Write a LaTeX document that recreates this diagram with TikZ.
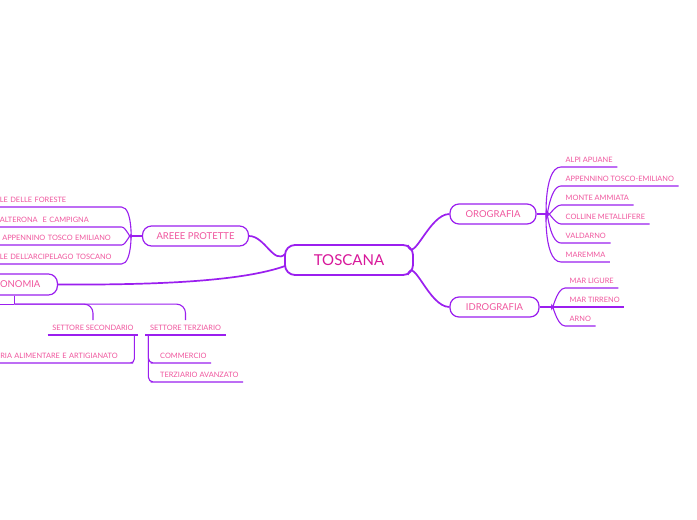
\documentclass[tikz,border=0pt]{standalone}
\usepackage{fontspec}
\setmainfont{Lato}
\usepackage{tikz}
\usetikzlibrary{positioning,calc}

\definecolor{mmline}{HTML}{9B1FEF}
\definecolor{mmtext}{HTML}{F0569E}
\definecolor{mmroot}{HTML}{D8179A}

\begin{document}
\begin{tikzpicture}[x=1pt,y=-1pt,
    root/.style={draw=mmline, line width=1.8pt, rounded corners=10pt, fill=white, text=mmroot,
      font=\fontsize{15}{15}\selectfont, minimum width=128pt, minimum height=30pt, inner sep=0pt},
    topic/.style={draw=mmline, line width=1.2pt, rounded corners=9pt, fill=white, text=mmtext,
      font=\fontsize{9.5}{9.5}\selectfont, inner xsep=14pt, minimum height=20pt},
    leaf/.style={text=mmtext, font=\fontsize{7.4}{7.4}\selectfont, inner xsep=4.5pt, inner ysep=4.5pt,
      text height=5.5pt, text depth=0pt},
    leftleaf/.style={leaf, text width=117pt, align=left, anchor=south east},
    rightleaf/.style={leaf, anchor=south west},
    mainlink/.style={draw=mmline, line width=1.7pt},
    leaflink/.style={draw=mmline, line width=1.1pt}]
    \useasboundingbox (0,0) rectangle (697,520);
    \clip (0,0) rectangle (697,520);
    \fill[white] (0,0) rectangle (697,520);

    % Central topic
    \node[root] (toscana) at (349,260) {TOSCANA};

    % Main topics
    \node[topic, minimum width=105pt] (areee) at (195.5,236) {AREEE PROTETTE};
    \node[topic, anchor=east, inner xsep=17pt, minimum height=21pt] (economia) at (58,284.5) {ECONOMIA};
    \node[topic, minimum width=86pt] (orografia) at (493,214) {OROGRAFIA};
    \node[topic, minimum width=89pt] (idrografia) at (494.5,307) {IDROGRAFIA};

    % Links from the centre
    \draw[mainlink] ($(toscana.west)+(1,-6)$) to[out=225, in=0] (areee.east);
    \draw[mainlink] ($(toscana.west)+(1,6)$) .. controls (240,282) and (150,285) .. (economia.east);
    \draw[mainlink] ($(toscana.north east)+(-6,1)$) to[out=-75, in=180] (orografia.west);
    \draw[mainlink] ($(toscana.south east)+(-6,-1)$) to[out=75, in=180] (idrografia.west);

    % Aree protette
    \draw[mainlink] (areee.west) -- ++(-11,0) coordinate (aj);
    \node[leftleaf] (foreste) at (121.5,207) {LE DELLE FORESTE};
    \node[leftleaf] (falterona) at (121.5,227) {ALTERONA\ \ E CAMPIGNA};
    \node[leftleaf] (appennino) at (121.5,245) {\ APPENNINO TOSCO EMILIANO};
    \node[leftleaf] (arcipelago) at (121.5,264) {\mbox{LE DELL'ARCIPELAGO TOSCANO}};
    \draw[leaflink] (aj) to[out=-90, in=0] (foreste.south east) -- (foreste.south west);
    \draw[leaflink] (aj) to[out=-90, in=0] (falterona.south east) -- (falterona.south west);
    \draw[leaflink] (aj) to[out=90, in=0] (appennino.south east) -- (appennino.south west);
    \draw[leaflink] (aj) to[out=90, in=0] (arcipelago.south east) -- (arcipelago.south west);

    % Orografia
    \draw[mainlink] (orografia.east) -- ++(10,0) coordinate (oj);
    \node[rightleaf] (apuane) at (561,167) {ALPI APUANE};
    \node[rightleaf] (toscoemil) at (561,186) {APPENNINO TOSCO-EMILIANO};
    \node[rightleaf] (amiata) at (561,205) {MONTE AMMIATA};
    \node[rightleaf] (colline) at (561,224) {COLLINE METALLIFERE};
    \node[rightleaf] (valdarno) at (561,243) {VALDARNO};
    \node[rightleaf] (maremma) at (561,262) {MAREMMA};
    \draw[leaflink] (oj) to[out=-90, in=180] (apuane.south west) -- (apuane.south east);
    \draw[leaflink] (oj) to[out=-90, in=180] (toscoemil.south west) -- (toscoemil.south east);
    \draw[leaflink] (oj) to[out=-90, in=180] (amiata.south west) -- (amiata.south east);
    \draw[leaflink] (oj) to[out=90, in=180] (colline.south west) -- (colline.south east);
    \draw[leaflink] (oj) to[out=90, in=180] (valdarno.south west) -- (valdarno.south east);
    \draw[leaflink] (oj) to[out=90, in=180] (maremma.south west) -- (maremma.south east);

    % Idrografia
    \draw[mainlink] (idrografia.east) -- ++(12,0) coordinate (ij);
    \node[rightleaf] (ligure) at (565,288) {MAR LIGURE};
    \node[rightleaf] (tirreno) at (565,307) {MAR TIRRENO};
    \node[rightleaf] (arno) at (565,326) {ARNO};
    \draw[leaflink] (ij) to[out=-90, in=180] (ligure.south west) -- (ligure.south east);
    \draw[leaflink] (ij) -- (tirreno.south west) -- (tirreno.south east);
    \draw[leaflink] (ij) to[out=90, in=180] (arno.south west) -- (arno.south east);

    % Economia
    \draw[mainlink] (economia.south) -- ++(0,8.5) coordinate (ej);
    \draw[leaflink] (ej) -- ++(-30,0);
    \node[leaf, anchor=south] (secondario) at (93,335) {SETTORE SECONDARIO};
    \node[leaf, anchor=south] (terziario) at (185.5,335) {SETTORE TERZIARIO};
    \draw[leaflink, rounded corners=9pt] (ej) -| (secondario.north);
    \draw[leaflink, rounded corners=9pt] (ej) -| (terziario.north);
    \draw[leaflink] (secondario.south west) -- (secondario.south east);
    \draw[leaflink] (terziario.south west) -- (terziario.south east);

    % Settore secondario
    \node[leftleaf, text width=124pt] (alimentare) at (129,363) {RIA ALIMENTARE E ARTIGIANATO};
    \draw[leaflink, rounded corners=4pt] ($(secondario.south east)+(-4,0)$) |- (alimentare.south east) -- (alimentare.south west);

    % Settore terziario
    \node[rightleaf] (commercio) at (155.5,363) {COMMERCIO};
    \node[rightleaf] (avanzato) at (155.5,382) {TERZIARIO AVANZATO};
    \draw[leaflink, rounded corners=5pt] ($(terziario.south west)+(3,0)$) |- (commercio.south west) -- (commercio.south east);
    \draw[leaflink, rounded corners=5pt] ($(terziario.south west)+(3,0)$) |- (avanzato.south west) -- (avanzato.south east);
\end{tikzpicture}
\end{document}
